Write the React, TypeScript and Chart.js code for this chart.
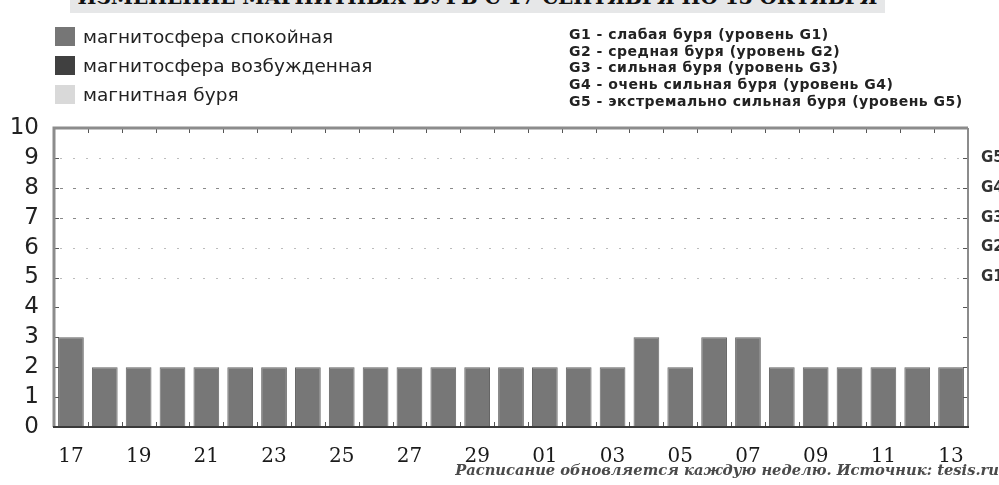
import { useEffect, useRef } from "react";
import { Chart, registerables } from "chart.js";

Chart.register(...registerables);

const days = [
  "17", "18", "19", "20", "21", "22", "23", "24", "25", "26", "27", "28", "29", "30",
  "01", "02", "03", "04", "05", "06", "07", "08", "09", "10", "11", "12", "13",
];
const kpValues = [3, 2, 2, 2, 2, 2, 2, 2, 2, 2, 2, 2, 2, 2, 2, 2, 2, 3, 2, 3, 3, 2, 2, 2, 2, 2, 2];
const gLevels = ["G1", "G2", "G3", "G4", "G5"];
const gLevelValues = [5, 6, 7, 8, 9];
const stateLegend = [
  { label: "магнитосфера спокойная", color: "#767676" },
  { label: "магнитосфера возбужденная", color: "#404040" },
  { label: "магнитная буря", color: "#d9d9d9" },
];
const stormLegend = [
  "G1 - слабая буря (уровень G1)",
  "G2 - средная буря (уровень G2)",
  "G3 - сильная буря (уровень G3)",
  "G4 - очень сильная буря (уровень G4)",
  "G5 - экстремально сильная буря (уровень G5)",
];
const titleText = "ИЗМЕНЕНИЕ МАГНИТНЫХ БУРЬ С 17 СЕНТЯБРЯ ПО 13 ОКТЯБРЯ";
const footerText = "Расписание обновляется каждую неделю. Источник: tesis.ru";

const decor = {
  id: "decor",
  beforeDatasetsDraw(chart: any) {
    const { ctx, chartArea: a, scales } = chart;
    const y = scales.y;
    ctx.save();
    gLevelValues.forEach((v) => {
      const py = Math.round(y.getPixelForValue(v)) + 0.5;
      const strong = v === 7 || v === 8;
      ctx.strokeStyle = strong ? "#8a8a8a" : "#bdbdbd";
      ctx.lineWidth = 1;
      ctx.setLineDash(strong ? [3, 10] : [2, 11]);
      ctx.beginPath();
      ctx.moveTo(a.left + 6, py);
      ctx.lineTo(a.right, py);
      ctx.stroke();
    });
    ctx.restore();
  },
  afterDatasetsDraw(chart: any) {
    const { ctx, chartArea: a, scales } = chart;
    const y = scales.y;
    const x = scales.x;
    ctx.save();
    ctx.setLineDash([]);
    ctx.strokeStyle = "#555";
    ctx.lineWidth = 1;
    for (let v = 1; v <= 9; v++) {
      const py = Math.round(y.getPixelForValue(v)) + 0.5;
      ctx.beginPath();
      ctx.moveTo(a.left, py);
      ctx.lineTo(a.left + 5, py);
      ctx.moveTo(a.right - 5, py);
      ctx.lineTo(a.right, py);
      ctx.stroke();
    }
    for (let i = 0; i < days.length - 1; i++) {
      const px = Math.round((x.getPixelForValue(i) + x.getPixelForValue(i + 1)) / 2) + 0.5;
      ctx.beginPath();
      ctx.moveTo(px, a.bottom);
      ctx.lineTo(px, a.bottom - 5);
      ctx.moveTo(px, a.top);
      ctx.lineTo(px, a.top + 5);
      ctx.stroke();
    }
    ctx.strokeStyle = "#8c8c8c";
    ctx.lineWidth = 3;
    ctx.beginPath();
    ctx.moveTo(a.left, a.bottom);
    ctx.lineTo(a.left, a.top);
    ctx.lineTo(a.right, a.top);
    ctx.stroke();
    ctx.lineWidth = 2;
    ctx.beginPath();
    ctx.moveTo(a.right, a.top);
    ctx.lineTo(a.right, a.bottom);
    ctx.stroke();
    ctx.strokeStyle = "#3a3a3a";
    ctx.lineWidth = 2;
    ctx.beginPath();
    ctx.moveTo(a.left - 1, a.bottom);
    ctx.lineTo(a.right + 1, a.bottom);
    ctx.stroke();
    ctx.restore();
  },
};

export default function App() {
  const canvasRef = useRef<HTMLCanvasElement | null>(null);

  useEffect(() => {
    if (!canvasRef.current) return;
    const chart = new Chart(canvasRef.current, {
      type: "bar",
      data: {
        labels: days,
        datasets: [
          {
            data: kpValues,
            backgroundColor: "#777777",
            borderColor: "#666666",
            borderWidth: 1,
            barPercentage: 0.76,
            categoryPercentage: 1,
          },
        ],
      },
      options: {
        responsive: false,
        animation: false,
        events: [],
        layout: { padding: { top: 128, left: 0, right: 0, bottom: 0 } },
        plugins: { legend: { display: false }, tooltip: { enabled: false } },
        scales: {
          x: {
            grid: { display: false },
            border: { display: false },
            ticks: {
              autoSkip: false,
              maxRotation: 0,
              padding: 10,
              color: "#1a1a1a",
              font: { family: "'DejaVu Serif'", size: 20 },
              callback: (_v: any, i: number) => (i % 2 === 0 ? days[i] : ""),
            },
            afterFit: (s: any) => {
              s.height = 58;
            },
          },
          y: {
            min: 0,
            max: 10,
            grid: { display: false },
            border: { display: false },
            ticks: {
              stepSize: 1,
              autoSkip: false,
              padding: 7,
              color: "#222",
              font: { family: "'DejaVu Sans'", size: 23 },
            },
            afterFit: (s: any) => {
              s.width = 54;
            },
          },
          y2: {
            position: "right",
            min: 0,
            max: 10,
            grid: { display: false },
            border: { display: false },
            ticks: {
              stepSize: 1,
              autoSkip: false,
              padding: 5,
              color: "#333",
              font: { family: "'DejaVu Sans'", size: 15, weight: "bold" },
              callback: (v: any) => {
                const idx = gLevelValues.indexOf(Number(v));
                return idx >= 0 ? gLevels[idx] : "";
              },
            },
            afterFit: (s: any) => {
              s.width = 31;
            },
          },
        },
      },
      plugins: [decor],
    });
    return () => chart.destroy();
  }, []);

  return (
    <div
      style={{
        position: "fixed",
        left: 0,
        top: 0,
        width: 999,
        height: 485,
        background: "#fff",
        overflow: "hidden",
      }}
    >
      <div
        style={{
          position: "absolute",
          left: 70,
          top: 0,
          width: 815,
          height: 13,
          background: "#e6e7e8",
          overflow: "hidden",
        }}
      >
        <div
          style={{
            position: "absolute",
            left: 0,
            right: 0,
            top: -16,
            lineHeight: "26px",
            textAlign: "center",
            fontFamily: "'DejaVu Serif'",
            fontWeight: "bold",
            fontSize: 20,
            color: "#111",
            whiteSpace: "nowrap",
          }}
        >
          {titleText}
        </div>
      </div>
      <canvas ref={canvasRef} width={999} height={485} style={{ position: "absolute", left: 0, top: 0 }} />
      {stateLegend.map((it, i) => (
        <div
          key={it.label}
          style={{
            position: "absolute",
            left: 55,
            top: 26 + i * 29,
            height: 20,
            display: "flex",
            alignItems: "center",
            fontFamily: "'DejaVu Sans'",
            fontSize: 18.5,
            color: "#222",
            whiteSpace: "nowrap",
          }}
        >
          <span style={{ display: "inline-block", width: 20, height: 19, background: it.color, marginRight: 8 }} />
          {it.label}
        </div>
      ))}
      {stormLegend.map((t, i) => (
        <div
          key={t}
          style={{
            position: "absolute",
            left: 569,
            top: 26 + i * 16.7,
            lineHeight: "17px",
            fontFamily: "'DejaVu Sans'",
            fontWeight: "bold",
            fontSize: 14,
            letterSpacing: 0.5,
            color: "#222",
            whiteSpace: "nowrap",
          }}
        >
          {t}
        </div>
      ))}
      <div
        style={{
          position: "absolute",
          right: 0,
          top: 460,
          lineHeight: "20px",
          fontFamily: "'DejaVu Serif'",
          fontStyle: "italic",
          fontWeight: "bold",
          fontSize: 14.7,
          color: "#4a4a4a",
          whiteSpace: "nowrap",
        }}
      >
        {footerText}
      </div>
    </div>
  );
}
